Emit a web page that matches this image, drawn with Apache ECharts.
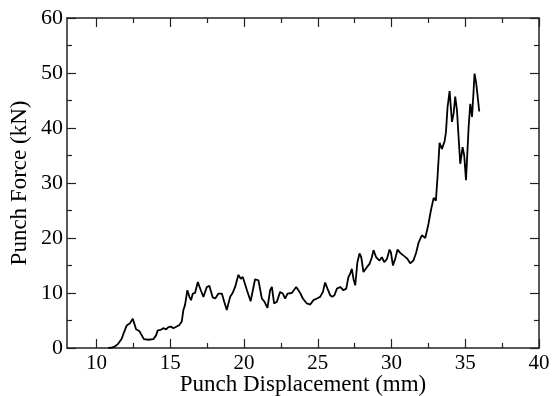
<!DOCTYPE html>
<html>
<head>
<meta charset="utf-8">
<script src="https://cdn.jsdelivr.net/npm/echarts@6/dist/echarts.min.js"></script>
<style>
  html, body { margin: 0; padding: 0; background: #fff; }
  #chart { width: 553px; height: 396px; }
</style>
</head>
<body>
<div id="chart"></div>
<script>
// punch displacement (mm)
const displacement = [
  10.8, 11.0, 11.26, 11.48, 11.71, 11.87, 12.05, 12.27, 12.46, 12.58, 12.68, 12.9,
  13.07, 13.22, 13.52, 13.85, 14.04, 14.15, 14.36, 14.53, 14.72, 14.87, 15.04, 15.21,
  15.44, 15.62, 15.78, 15.89, 16.0, 16.16, 16.3, 16.41, 16.53, 16.68, 16.87, 17.07,
  17.25, 17.48, 17.65, 17.88, 18.05, 18.27, 18.5, 18.65, 18.83, 19.06, 19.21, 19.4,
  19.62, 19.78, 19.92, 20.05, 20.2, 20.45, 20.6, 20.75, 20.98, 21.21, 21.39, 21.59,
  21.77, 21.89, 22.04, 22.23, 22.45, 22.63, 22.79, 22.95, 23.24, 23.54, 23.81, 23.99,
  24.26, 24.49, 24.71, 24.94, 25.16, 25.35, 25.5, 25.66, 25.84, 25.98, 26.13, 26.3,
  26.52, 26.74, 26.93, 27.08, 27.2, 27.31, 27.42, 27.54, 27.69, 27.83, 27.95, 28.1,
  28.33, 28.51, 28.67, 28.78, 28.96, 29.19, 29.35, 29.51, 29.69, 29.87, 29.96, 30.1,
  30.25, 30.41, 30.59, 30.82, 31.05, 31.27, 31.49, 31.68, 31.83, 32.06, 32.29, 32.51,
  32.67, 32.86, 33.01, 33.12, 33.26, 33.42, 33.6, 33.69, 33.8, 33.94, 34.1, 34.21,
  34.32, 34.44, 34.55, 34.66, 34.82, 34.93, 35.05, 35.12, 35.23, 35.34, 35.46, 35.56,
  35.63, 35.75, 35.95
];
// punch force (kN)
const force = [
  0, 0.05, 0.3, 0.8, 1.7, 2.9, 4.1, 4.5, 5.3, 4.3, 3.4, 3.1,
  2.3, 1.6, 1.5, 1.6, 2.3, 3.2, 3.3, 3.6, 3.4, 3.8, 3.9, 3.6,
  3.9, 4.2, 4.8, 6.9, 7.8, 10.5, 9.3, 8.7, 9.9, 10.0, 12.0, 10.5,
  9.3, 11.1, 11.3, 9.2, 9.0, 9.9, 9.9, 8.5, 6.9, 9.3, 9.9, 11.1,
  13.3, 12.6, 12.9, 12.6, 10.5, 8.5, 10.5, 12.5, 12.3, 9.0, 8.4, 7.3,
  10.5, 11.1, 8.1, 8.4, 10.2, 9.9, 9.0, 9.9, 10.0, 11.1, 10.0, 9.0,
  8.1, 7.9, 8.7, 9.0, 9.3, 10.2, 11.9, 10.8, 9.6, 9.3, 9.6, 10.8,
  11.1, 10.5, 10.8, 12.9, 13.5, 14.4, 12.6, 11.4, 15.6, 17.2, 16.5, 13.8,
  14.7, 15.3, 16.5, 17.8, 16.5, 15.9, 16.5, 15.6, 16.2, 17.9, 17.4, 15.0,
  16.2, 17.9, 17.3, 16.8, 16.3, 15.4, 15.9, 17.4, 19.1, 20.5, 20.0, 22.6,
  25.0, 27.3, 26.8, 31.1, 37.3, 36.2, 37.6, 39.2, 43.8, 46.7, 41.1, 42.6,
  45.7, 43.2, 38.3, 33.5, 36.5, 35.0, 30.5, 30.8, 40.2, 44.4, 42.0, 46.5,
  49.9, 48.0, 43.0
];

const xRange = [8, 40];
const yRange = [0, 60];
const xMajorTicks = [10, 15, 20, 25, 30, 35, 40];
const xMinorTicks = [12.5, 17.5, 22.5, 27.5, 32.5, 37.5];
const yMajorTicks = [0, 10, 20, 30, 40, 50, 60];
const yMinorTicks = [5, 15, 25, 35, 45, 55];

const chart = echarts.init(document.getElementById('chart'));
const font = 'Liberation Serif';
const axisColor = '#222';

// one axis of the box frame; ticks point inwards
function frameAxis(range, position, ticks, len, withLine, extra) {
  return Object.assign({
    type: 'value', position, min: range[0], max: range[1],
    axisLine: { show: withLine, onZero: false, lineStyle: { color: axisColor, width: 1.5 } },
    axisTick: { show: true, inside: true, length: len, customValues: ticks,
      lineStyle: { color: axisColor, width: 1.2 } },
    axisLabel: { show: false },
    splitLine: { show: false },
  }, extra || {});
}

chart.setOption({
  backgroundColor: '#fff',
  animation: false,
  grid: { left: 67, right: 14, top: 18, bottom: 48, outerBoundsMode: 'none' },
  xAxis: [
    frameAxis(xRange, 'bottom', xMajorTicks, 9, true, {
      axisLabel: { show: true, customValues: xMajorTicks, color: '#000',
        fontFamily: font, fontSize: 21, margin: 5 },
      name: 'Punch Displacement (mm)', nameLocation: 'middle', nameGap: 25,
      nameMoveOverlap: false,
      nameTextStyle: { color: '#000', fontFamily: font, fontSize: 23 },
    }),
    frameAxis(xRange, 'bottom', xMinorTicks, 5, false),
    frameAxis(xRange, 'top', xMajorTicks, 9, true),
    frameAxis(xRange, 'top', xMinorTicks, 5, false),
  ],
  yAxis: [
    frameAxis(yRange, 'left', yMajorTicks, 9, true, {
      axisLabel: { show: true, customValues: yMajorTicks, color: '#000',
        fontFamily: font, fontSize: 22, margin: 4 },
      name: 'Punch Force (kN)', nameLocation: 'middle', nameGap: 36,
      nameMoveOverlap: false,
      nameTextStyle: { color: '#000', fontFamily: font, fontSize: 23 },
    }),
    frameAxis(yRange, 'left', yMinorTicks, 5, false),
    frameAxis(yRange, 'right', yMajorTicks, 9, true),
    frameAxis(yRange, 'right', yMinorTicks, 5, false),
  ],
  series: [{
    type: 'line',
    xAxisIndex: 0,
    yAxisIndex: 0,
    data: displacement.map((d, i) => [d, force[i]]),
    showSymbol: false,
    smooth: false,
    lineStyle: { color: '#000', width: 1.8 },
  }],
});
</script>
</body>
</html>
